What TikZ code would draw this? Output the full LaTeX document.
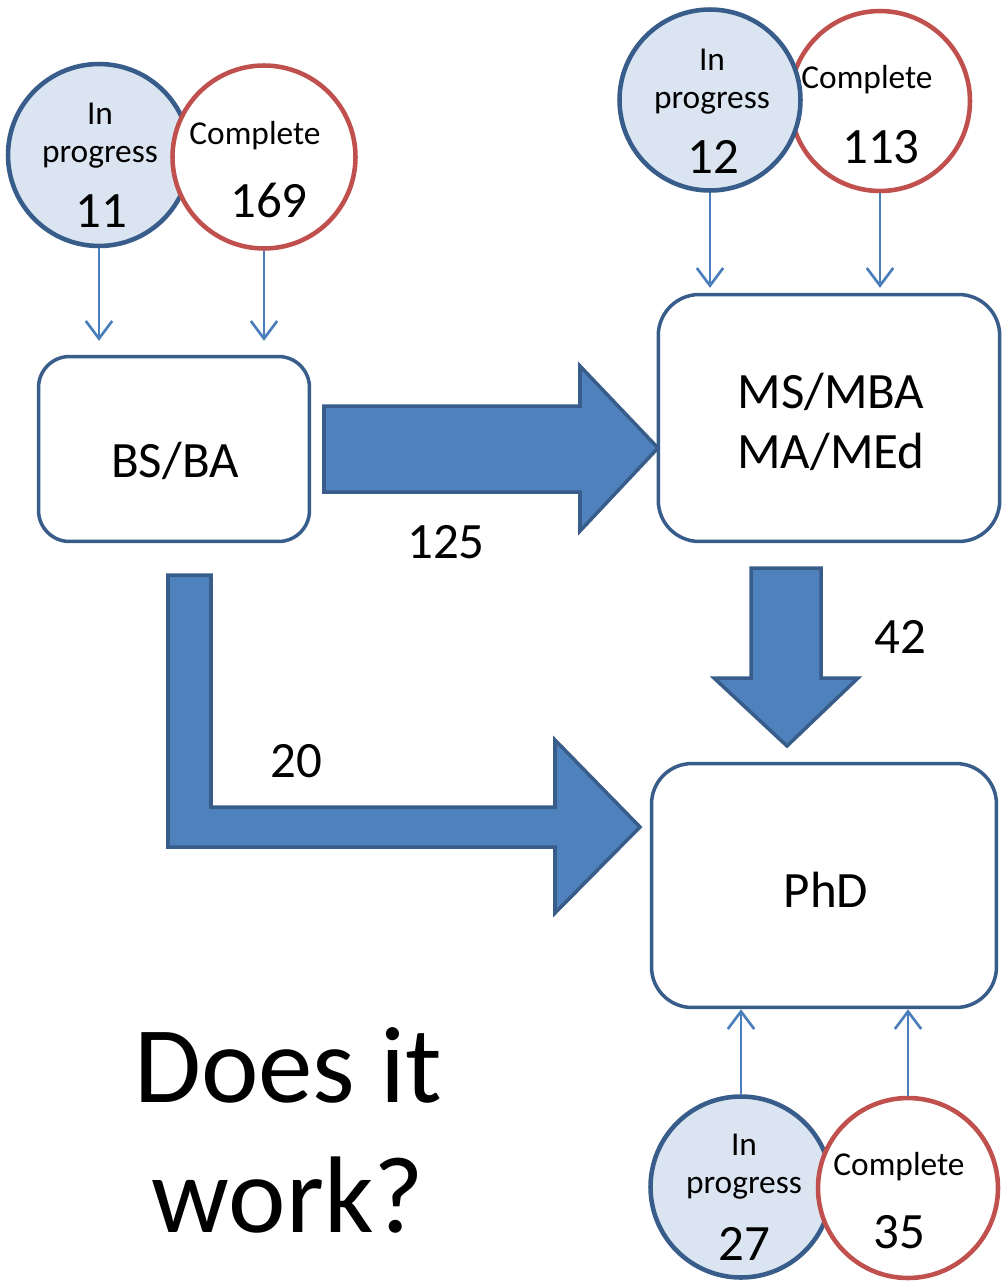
\documentclass[tikz,border=0pt]{standalone}
\usepackage{fontspec}
\setmainfont{Carlito}
\usetikzlibrary{arrows.meta}
\definecolor{edgeblue}{HTML}{385D8A}
\definecolor{flowblue}{HTML}{4F81BD}
\definecolor{paleblue}{HTML}{DBE5F1}
\definecolor{edgered}{HTML}{C0504D}
\definecolor{feedblue}{HTML}{4A7EBB}

\begin{document}
\begin{tikzpicture}[x=0.02cm, y=-0.02cm,
    degree/.style={rectangle, draw=edgeblue, line width=2pt, fill=white, inner sep=0pt},
    inprog/.style={circle, draw=edgeblue, fill=paleblue, line width=2.6pt, inner sep=0pt},
    complete/.style={circle, draw=edgered, fill=white, line width=2.6pt, inner sep=0pt},
    bigtext/.style={anchor=base, inner sep=0pt, align=center, font=\fontsize{29}{34}\selectfont},
    smalltext/.style={anchor=base, inner sep=0pt, align=center, font=\fontsize{19}{21.5}\selectfont},
    feed/.style={draw=feedblue, line width=1.5pt, -{Straight Barb[length=10pt, width=15pt]}},
    flow/.style={draw=edgeblue, fill=flowblue, line width=2pt, line join=miter}]

    \useasboundingbox (0,0) rectangle (1003,1282);

    % Degree boxes
    \node[degree, rounded corners=0.62cm, minimum width=5.42cm, minimum height=3.7cm] (bsba) at (174,449) {};
    \node[degree, rounded corners=0.82cm, minimum width=6.83cm, minimum height=4.94cm] (msma) at (829,418) {};
    \node[degree, rounded corners=0.81cm, minimum width=6.9cm, minimum height=4.88cm] (phd) at (824,885.5) {};
    \node[bigtext] (bsbatext) at (175,477) {BS/BA};
    \node[bigtext] (msmatext) at (831,468) {MS/MBA\\MA/MEd};
    \node[bigtext] (phdtext) at (826,907) {PhD};

    % Counts above BS/BA
    \node[inprog, minimum size=3.64cm] (ipbs) at (99,155) {};
    \node[complete, minimum size=3.66cm] (cpbs) at (264,157) {};
    \node[smalltext] (ipbstext) at (100,162) {In\\progress};
    \node[bigtext] (ipbsnum) at (101,227) {11};
    \node[smalltext] (cpbstext) at (255,144) {Complete};
    \node[bigtext] (cpbsnum) at (269,217) {169};

    % Counts above MS/MBA
    \node[complete, minimum size=3.6cm] (cpms) at (880,101) {};
    \node[inprog, minimum size=3.62cm] (ipms) at (710,100) {};
    \node[smalltext] (ipmstext) at (712,108) {In\\progress};
    \node[bigtext] (ipmsnum) at (713,173) {12};
    \node[smalltext] (cpmstext) at (867,88) {Complete};
    \node[bigtext] (cpmsnum) at (881,163) {113};

    % Counts below PhD
    \node[inprog, minimum size=3.62cm] (ipphd) at (741,1187) {};
    \node[complete, minimum size=3.6cm] (cpphd) at (908,1188) {};
    \node[smalltext] (ipphdtext) at (744,1193) {In\\progress};
    \node[bigtext] (ipphdnum) at (744,1260) {27};
    \node[smalltext] (cpphdtext) at (899,1175) {Complete};
    \node[bigtext] (cpphdnum) at (899,1248) {35};

    % Thin arrows
    \draw[feed, shorten >=0.28cm] (ipbs.south) -- (ipbs.south |- bsba.north);
    \draw[feed, shorten >=0.28cm] (cpbs.south) -- (cpbs.south |- bsba.north);
    \draw[feed, shorten >=0.1cm] (ipms.south) -- (ipms.south |- msma.north);
    \draw[feed, shorten >=0.1cm] (cpms.south) -- (cpms.south |- msma.north);
    \draw[feed] (ipphd.north) -- (ipphd.north |- phd.south);
    \draw[feed] (cpphd.north) -- (cpphd.north |- phd.south);

    % Block arrows
    \draw[flow] (324,406) -- (580,406) -- (580,366) -- (658,448) -- (580,531) -- (580,492) -- (324,492) -- cycle;
    \draw[flow] (751,568) -- (821,568) -- (821,678) -- (858,678) -- (787,746) -- (714,678) -- (751,678) -- cycle;
    \draw[flow] (168,575) -- (211,575) -- (211,807) -- (555,807) -- (555,740) -- (640,827) -- (555,913) -- (555,847) -- (168,847) -- cycle;
    \node[bigtext] (flowms) at (446,558) {125};
    \node[bigtext] (flowphd) at (900,653) {42};
    \node[bigtext] (flowdirect) at (296,777) {20};

    % Question
    \node[anchor=base, inner sep=0pt, align=center, font=\fontsize{62}{74}\selectfont] (question) at (288,1232) {Does it\\work?};
\end{tikzpicture}
\end{document}
